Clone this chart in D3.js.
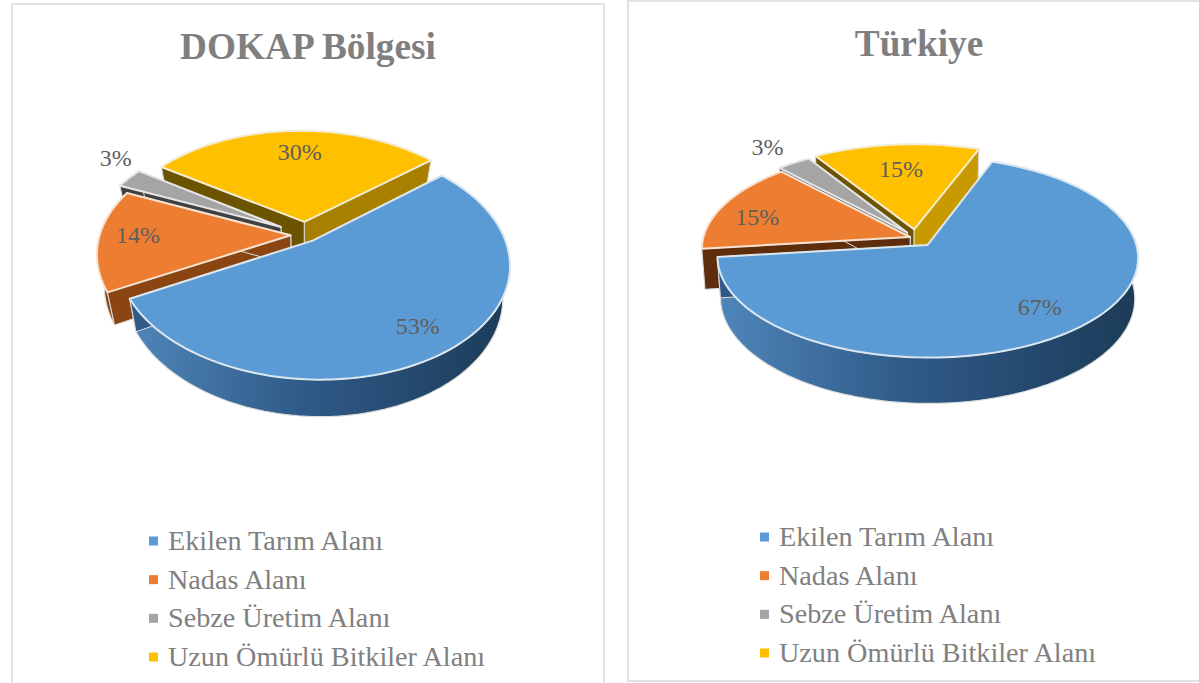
<!DOCTYPE html>
<html>
<head>
<meta charset="utf-8">
<script src="https://cdn.jsdelivr.net/npm/d3@7"></script>
<style>
  html, body { margin: 0; padding: 0; background: #fff; }
  svg { display: block; font-family: "Liberation Serif", serif; }
</style>
</head>
<body>
<svg id="chart" width="1199" height="683"></svg>
<script>
const categories = ['Ekilen Tarım Alanı', 'Nadas Alanı', 'Sebze Üretim Alanı', 'Uzun Ömürlü Bitkiler Alanı']
const dokapValues = [53.4, 14.4, 2.9, 29.5]
const turkiyeValues = [67.4, 15, 3, 14.6]
const colors = ['#5b9bd5', '#ed7d31', '#a5a5a5', '#ffc000']
const W = 1199, H = 683

const svg = d3.select('#chart')
const defs = svg.append('defs')

// horizontal shading for the outer walls, light at the left
function wallGradient(id, stops) {
    const g = defs.append('linearGradient').attr('id', id)
    stops.forEach(s => g.append('stop').attr('offset', s[0]).attr('stop-color', s[1]))
}
wallGradient('wall0', [[0, '#4f86b9'], [0.45, '#2f5a88'], [1, '#1c3b58']])

function drawPie(values, c) {
    const g = svg.append('g')

    // panel
    g.append('rect')
        .attr('x', c.panel[0]).attr('y', c.panel[1])
        .attr('width', c.panel[2]).attr('height', c.panel[3])
        .attr('fill', '#fff').attr('stroke', '#e2e2e2').attr('stroke-width', 2)

    g.append('text')
        .attr('x', c.titleX).attr('y', c.titleY)
        .attr('text-anchor', 'middle')
        .attr('font-size', 37.3).attr('font-weight', 'bold').attr('fill', '#7f7f7f')
        .text(c.title)

    const arcs = d3.pie().sort(null).startAngle(c.start).endAngle(c.start + 2 * Math.PI)(values)

    // world (x right, y away from viewer, z down) to screen, with a bit of perspective
    const project = (x, y, z) => {
        const w = 1 + c.p * y
        return [c.cx + c.R * (x * (1 - c.s * z) + c.ox) / w - c.R * c.ox, c.cy - c.R * c.k * y / w + c.h * z / w]
    }
    const line = d3.line()

    arcs.forEach((d, i) => { d.idx = i })
    const pieces = c.order.map(i => arcs[i])

    pieces.forEach(d => {
        const i = d.idx
        const mid = (d.startAngle + d.endAngle) / 2
        const e = c.explode[i]
        const ox = e * Math.sin(mid), oy = e * Math.cos(mid)
        const n = Math.max(4, Math.ceil((d.endAngle - d.startAngle) / 0.03))
        const angles = d3.range(n + 1).map(t => d.startAngle + (d.endAngle - d.startAngle) * t / n)
        const rim = z => angles.map(a => project(ox + Math.sin(a), oy + Math.cos(a), z))
        const apex = z => project(ox, oy, z)
        const slice = g.append('g')

        // outer wall, the top face hides whatever is behind it
        slice.append('path')
            .attr('d', line(rim(0).concat(rim(1).reverse())) + 'Z')
            .attr('fill', c.wall[i]).attr('stroke', '#dcdcdc').attr('stroke-width', 1.2)

        // two flat faces
        ;[[angles[0], c.faceA[i]], [angles[n], c.faceB[i]]].forEach(([a, col]) => {
            const r0 = project(ox + Math.sin(a), oy + Math.cos(a), 0)
            const r1 = project(ox + Math.sin(a), oy + Math.cos(a), 1)
            slice.append('path')
                .attr('d', line([apex(0), r0, r1, apex(1)]) + 'Z')
                .attr('fill', col).attr('stroke', '#dcdcdc').attr('stroke-width', 1)
        })

        // top face
        slice.append('path')
            .attr('d', line([apex(0)].concat(rim(0))) + 'Z')
            .attr('fill', colors[i])
            .attr('stroke', c.rimColor[i]).attr('stroke-width', 2).attr('stroke-linejoin', 'round')
    })

    // percent labels
    arcs.forEach((d, i) => {
        const mid = (d.startAngle + d.endAngle) / 2 + c.labelTurn[i]
        const r = c.labelR[i]
        const p = project(r * Math.sin(mid), r * Math.cos(mid), 0)
        g.append('text')
            .attr('x', p[0]).attr('y', p[1])
            .attr('dy', '0.35em').attr('text-anchor', 'middle')
            .attr('font-size', 24).attr('fill', '#5f5f5f')
            .text(Math.round(d.data) + '%')
    })

    // legend
    const legendY = d3.scalePoint().domain(categories).range([c.legendY, c.legendY + 116])
    categories.forEach((name, i) => {
        g.append('rect')
            .attr('x', c.legendX).attr('y', legendY(name) - 4.5)
            .attr('width', 9).attr('height', 9).attr('fill', colors[i])
        g.append('text')
            .attr('x', c.legendX + 19).attr('y', legendY(name))
            .attr('dy', '0.32em')
            .attr('font-size', 28.2).attr('fill', '#808080')
            .text(name)
    })
}

const light = ['#dbe6ee', '#f6e3d4', '#e6e6e6', '#f3ecd2']

drawPie(dokapValues, {
    panel: [12, 4, 592, 690], title: 'DOKAP Bölgesi', titleX: 308, titleY: 59,
    cx: 306, cy: 235, R: 191, k: 0.585, p: 0.18, ox: 0.15, h: 30, s: 0.035,
    start: 50.3 * Math.PI / 180, explode: [0.06, 0.08, 0.15, 0.12], order: [3, 2, 1, 0],
    faceA: ['#2f5a88', '#8a4513', '#404040', '#6b5300'], faceB: ['#2f5a88', '#8a4513', '#404040', '#a88000'],
    wall: ['url(#wall0)', '#8a4513', '#404040', '#6b5300'], rimColor: light,
    labelR: [0.86, 0.88, 1.37, 0.86], labelTurn: [-0.02, 0.04, 0.11, 0.03],
    legendX: 149, legendY: 541
})

drawPie(turkiyeValues, {
    panel: [628, 1, 590, 680], title: 'Türkiye', titleX: 919, titleY: 56,
    cx: 916, cy: 238, R: 207, k: 0.47, p: 0.12, ox: 0, h: 40, s: 0.015,
    start: 20.5 * Math.PI / 180, explode: [0.09, 0.03, 0.07, 0.09], order: [3, 2, 1, 0],
    faceA: ['#2f5a88', '#5e2e0c', '#404040', '#6b5300'], faceB: ['#2f5a88', '#5e2e0c', '#404040', '#c99a00'],
    wall: ['url(#wall0)', '#5e2e0c', '#404040', '#6b5300'], rimColor: light,
    labelR: [0.85, 0.82, 1.33, 0.78], labelTurn: [-0.04, -0.07, 0, 0],
    legendX: 760, legendY: 537
})
</script>
</body>
</html>
